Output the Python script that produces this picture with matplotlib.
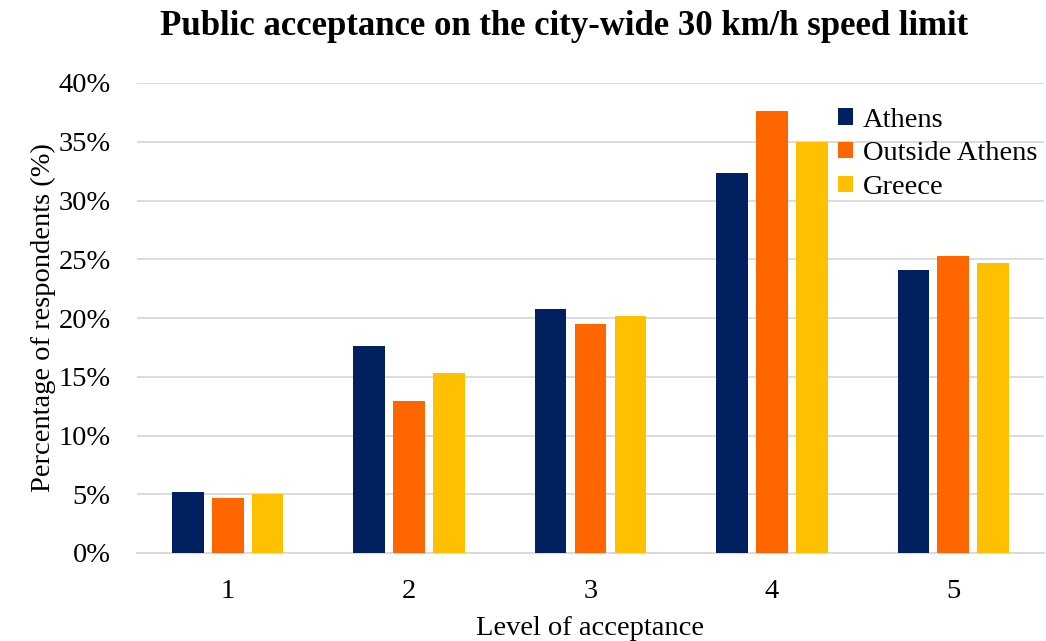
import numpy as np
import matplotlib
matplotlib.use("Agg")
import matplotlib.pyplot as plt
from matplotlib.ticker import PercentFormatter

plt.rcParams["font.family"] = ["Liberation Serif", "DejaVu Serif"]

levels = ["1", "2", "3", "4", "5"]
athens = [5.2, 17.6, 20.8, 32.3, 24.1]
outside_athens = [4.7, 12.9, 19.5, 37.6, 25.3]
greece = [5.0, 15.3, 20.2, 35.0, 24.7]
series = [("Athens", athens, "#002060"),
          ("Outside Athens", outside_athens, "#FF6600"),
          ("Greece", greece, "#FFC000")]

fig = plt.figure(figsize=(10.46, 6.41), dpi=100)
ax = fig.add_axes([137 / 1046, 1 - 553 / 641, 907 / 1046, 470 / 641])

x = np.arange(len(levels))
w = 0.175
pitch = 0.22
for i, (name, vals, col) in enumerate(series):
    ax.bar(x + (i - 1) * pitch, vals, w, color=col, label=name, zorder=3)

ax.set_xlim(-0.5, len(levels) - 0.5)
ax.set_ylim(0, 40)
ax.set_yticks(np.arange(0, 41, 5))
ax.yaxis.set_major_formatter(PercentFormatter(decimals=0))
ax.set_xticks(x)
ax.set_xticklabels(levels)
ax.grid(axis="y", color="#d9d9d9", lw=1.3, zorder=0)
for s in ["top", "right", "left"]:
    ax.spines[s].set_visible(False)
ax.spines["bottom"].set_color("#d9d9d9")
ax.spines["bottom"].set_linewidth(1.3)
ax.tick_params(axis="both", length=0, labelsize=20.5)
ax.tick_params(axis="y", pad=19)
ax.tick_params(axis="x", pad=19)

ax.set_ylabel("Percentage of respondents (%)", fontsize=20.5, labelpad=2)
ax.set_xlabel("Level of acceptance", fontsize=20.5, labelpad=8.5)
fig.suptitle("Public acceptance on the city-wide 30 km/h speed limit",
             fontsize=25, fontweight="bold", x=0.539, y=0.985)

ax.legend(loc="upper right", bbox_to_anchor=(1.011, 0.984), frameon=False,
          fontsize=20.5, handlelength=0.5, handleheight=0.5, handletextpad=0.35,
          labelspacing=0.31, borderaxespad=0.2)

fig.savefig("out.png", dpi=100)
